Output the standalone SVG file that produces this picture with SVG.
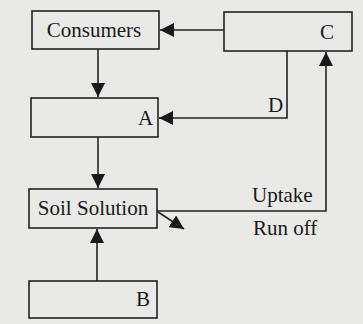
<svg xmlns="http://www.w3.org/2000/svg" width="363" height="324" viewBox="0 0 363 324">
<style>
.box{fill:none;stroke:#222;stroke-width:1.6}
.ln{fill:none;stroke:#222;stroke-width:1.6}
text{font-family:"Liberation Serif","Times New Roman",serif;font-size:21px;fill:#1a1a1a}
</style>
<defs>
<marker id="ah2" viewBox="0 0 10 10" refX="10" refY="5" markerWidth="14" markerHeight="14" orient="auto" markerUnits="userSpaceOnUse">
<path d="M0,0 L10,5 L0,10 z" fill="#1a1a1a"/>
</marker>
</defs>
<rect width="363" height="324" fill="#e9e9e7"/>
<g id="connectors">
<line class="ln" x1="224" y1="30" x2="160" y2="30" marker-end="url(#ah2)"/>
<line class="ln" x1="98" y1="49" x2="98" y2="97" marker-end="url(#ah2)"/>
<polyline class="ln" points="287,51 287,118 159,118" marker-end="url(#ah2)"/>
<line class="ln" x1="98" y1="137" x2="98" y2="188" marker-end="url(#ah2)"/>
<line class="ln" x1="97" y1="281" x2="97" y2="229" marker-end="url(#ah2)"/>
<polyline class="ln" points="157,211 326,211 326,52" marker-end="url(#ah2)"/>
<line class="ln" x1="158" y1="212" x2="184" y2="229" marker-end="url(#ah2)"/>
<text x="252" y="202">Uptake</text>
<text x="253" y="235">Run off</text>
<text x="268" y="112">D</text>
</g>
<g id="consumers">
<rect class="box" x="32" y="11" width="127" height="38"/>
<text x="94" y="37" text-anchor="middle">Consumers</text>
</g>
<g id="c">
<rect class="box" x="224" y="12" width="128" height="39"/>
<text x="320" y="39">C</text>
</g>
<g id="a">
<rect class="box" x="31" y="98" width="127" height="39"/>
<text x="138" y="125">A</text>
</g>
<g id="soil">
<rect class="box" x="29" y="189" width="128" height="39"/>
<text x="93" y="215" text-anchor="middle">Soil Solution</text>
</g>
<g id="b">
<rect class="box" x="29" y="281" width="128" height="37"/>
<text x="136" y="306">B</text>
</g>
</svg>
